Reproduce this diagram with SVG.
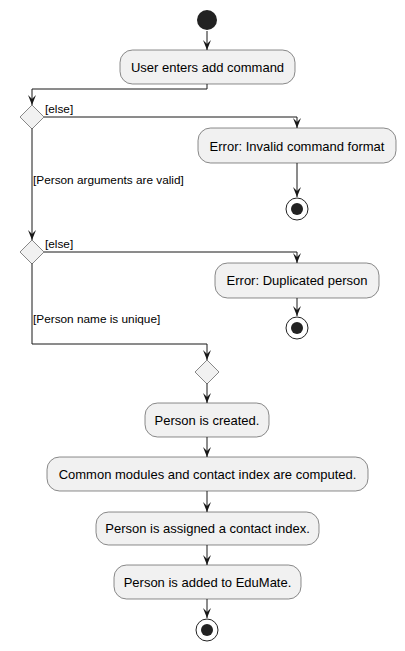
<svg xmlns="http://www.w3.org/2000/svg" width="405" height="651" viewBox="0 0 405 651">
<defs>
<marker id="arr" markerWidth="10" markerHeight="10" refX="10" refY="4" orient="auto" markerUnits="userSpaceOnUse">
<path d="M0,0 L10,4 L0,8 L4,4 Z" fill="#181818"/>
</marker>
<style>
.act{fill:#F1F1F1;stroke:#181818;stroke-width:0.5}
.dia{fill:#F1F1F1;stroke:#181818;stroke-width:0.5}
.t{font-family:"Liberation Sans",Arial,sans-serif;font-size:13px;fill:#000;text-anchor:middle}
.g{font-family:"Liberation Sans",Arial,sans-serif;font-size:11.8px;fill:#000}
.c{fill:none;stroke:#181818;stroke-width:1;marker-end:url(#arr)}
</style>
</defs>
<rect width="405" height="651" fill="#fff"/>
<g id="connectors">
<path class="c" d="M207,31 L207,50"/>
<path class="c" d="M207,84 L207,89 L32,89 L32,105"/>
<path class="c" d="M44,117 L297,117 L297,128"/>
<path class="c" d="M297,163 L297,197"/>
<path class="c" d="M32,128 L32,240"/>
<path class="c" d="M44,252 L297,252 L297,263"/>
<path class="c" d="M297,298 L297,316"/>
<path class="c" d="M32,263 L32,344 L207,344 L207,360"/>
<path class="c" d="M207,383 L207,403"/>
<path class="c" d="M207,437 L207,457"/>
<path class="c" d="M207,491 L207,512"/>
<path class="c" d="M207,545 L207,565"/>
<path class="c" d="M207,599 L207,618"/>
<text class="g" x="45" y="113">[else]</text>
<text class="g" x="33" y="184">[Person arguments are valid]</text>
<text class="g" x="45" y="248">[else]</text>
<text class="g" x="33" y="323">[Person name is unique]</text>
</g>
<g id="start"><circle cx="207" cy="20" r="10" fill="#222"/></g>
<g id="userEnters"><rect class="act" x="120" y="50" width="175" height="34" rx="12.5"/><text class="t" x="207.5" y="72">User enters add command</text></g>
<g id="decision1"><polygon class="dia" points="32,105 44,117 32,129 20,117"/></g>
<g id="errInvalid"><rect class="act" x="198" y="128" width="198" height="35" rx="12.5"/><text class="t" x="297" y="150.5">Error: Invalid command format</text></g>
<g id="end1"><circle cx="297" cy="209" r="11" fill="#fff" stroke="#222" stroke-width="1"/><circle cx="297" cy="209" r="6" fill="#222"/></g>
<g id="decision2"><polygon class="dia" points="32,240 44,252 32,264 20,252"/></g>
<g id="errDup"><rect class="act" x="215" y="263" width="164" height="35" rx="12.5"/><text class="t" x="297" y="285">Error: Duplicated person</text></g>
<g id="end2"><circle cx="297" cy="328" r="11" fill="#fff" stroke="#222" stroke-width="1"/><circle cx="297" cy="328" r="6" fill="#222"/></g>
<g id="merge"><polygon class="dia" points="207,360 219,372 207,384 195,372"/></g>
<g id="created"><rect class="act" x="145" y="403" width="124" height="34" rx="12.5"/><text class="t" x="207" y="425">Person is created.</text></g>
<g id="computed"><rect class="act" x="47" y="457" width="321" height="34" rx="12.5"/><text class="t" x="207.5" y="479">Common modules and contact index are computed.</text></g>
<g id="assigned"><rect class="act" x="96" y="512" width="223" height="33" rx="12.5"/><text class="t" x="207.5" y="533">Person is assigned a contact index.</text></g>
<g id="added"><rect class="act" x="114" y="565" width="187" height="34" rx="12.5"/><text class="t" x="207.5" y="587">Person is added to EduMate.</text></g>
<g id="end3"><circle cx="207" cy="630" r="11" fill="#fff" stroke="#222" stroke-width="1"/><circle cx="207" cy="630" r="6" fill="#222"/></g>
</svg>
